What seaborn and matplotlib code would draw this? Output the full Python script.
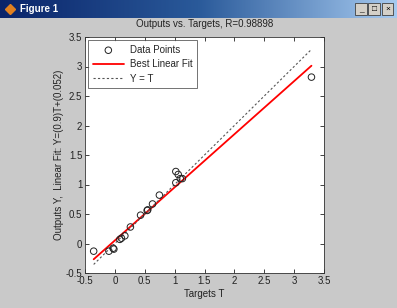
import numpy as np
import pandas as pd
import matplotlib
matplotlib.use("Agg")
import matplotlib.pyplot as plt
import seaborn as sns
from matplotlib.patches import Rectangle
from matplotlib.colors import LinearSegmentedColormap

targets = [-0.355, -0.10, -0.017, -0.03, 0.083, 0.11, 0.167, 0.26, 0.43, 0.54, 0.55,
           0.63, 0.745, 1.02, 1.06, 1.095, 1.13, 1.02, 3.29]
outputs = [-0.13, -0.13, -0.095, -0.08, 0.07, 0.09, 0.13, 0.28, 0.48, 0.56, 0.57,
           0.67, 0.82, 1.22, 1.17, 1.10, 1.10, 1.03, 2.82]
fit_slope = 0.9
fit_intercept = 0.052
r_value = "0.98898"
ticks = [-0.5, 0, 0.5, 1, 1.5, 2, 2.5, 3, 3.5]

sns.set_theme(style="white")
plt.rcParams['font.family'] = ['Liberation Sans', 'DejaVu Sans']

bg = "#c9c9c9"
fig = plt.figure(figsize=(3.97, 3.08), dpi=100, facecolor=bg)

# window title bar
tb = fig.add_axes([0, 1 - 18/308, 1, 18/308])
grad = np.linspace(0, 1, 256).reshape(1, -1)
cm = LinearSegmentedColormap.from_list("tb", ["#0a246a", "#2a5a9a", "#a6caf0"])
tb.imshow(grad, aspect="auto", cmap=cm, extent=[0, 1, 0, 1])
tb.set_xlim(0, 1); tb.set_ylim(0, 1); tb.axis("off")
tb.text(0.05, 0.5, "Figure 1", color="white", fontsize=7, fontweight="bold", va="center")
tb.plot([0.025], [0.5], marker="D", color="#e08020", markersize=5)
for i, sym in enumerate(["_", "□", "×"]):
    x0 = 0.895 + i * 0.033
    tb.add_patch(Rectangle((x0, 0.18), 0.03, 0.64, facecolor="#d4d0c8", edgecolor="#404040", lw=0.6))
    tb.text(x0 + 0.015, 0.48, sym, ha="center", va="center", fontsize=6, color="black")

df = pd.DataFrame({"T": targets, "Y": outputs})
xs = np.array([min(targets), max(targets)])
line_df = pd.DataFrame({"T": xs, "fit": fit_slope * xs + fit_intercept, "ident": xs})

ax = fig.add_axes([85/397, 1 - 273/308, 239/397, 236/308])
ax.set_facecolor("white")
sns.scatterplot(data=df, x="T", y="Y", ax=ax, marker="o", s=22, facecolors="none",
                edgecolor="#222222", linewidth=0.7, label="Data Points", zorder=3)
sns.lineplot(data=line_df, x="T", y="fit", ax=ax, color="red", linewidth=1.3,
             label="Best Linear Fit", zorder=2)
sns.lineplot(data=line_df, x="T", y="ident", ax=ax, color="#555555", linewidth=0.8,
             linestyle=(0, (2, 2)), label="Y = T", zorder=2)

ax.set_xlim(-0.5, 3.5)
ax.set_ylim(-0.5, 3.5)
ax.set_xticks(ticks)
ax.set_yticks(ticks)
ax.set_xticklabels([f"{t:g}" for t in ticks])
ax.set_yticklabels([f"{t:g}" for t in ticks])
ax.tick_params(direction="in", length=3, width=0.6, labelsize=7, colors="#222222",
               top=True, right=True, bottom=True, left=True, pad=2)
for s in ax.spines.values():
    s.set_color("#333333"); s.set_linewidth(0.6); s.set_visible(True)
ax.set_xlabel("Targets T", fontsize=7, labelpad=2, color="#222222")
ax.set_ylabel("Outputs Y,  Linear Fit: Y=(0.9)T+(0.052)", fontsize=7, labelpad=1, color="#222222")
ax.set_title(f"Outputs vs. Targets, R={r_value}", fontsize=7, pad=7, color="#222222")

leg = ax.legend(loc="upper left", fontsize=7, frameon=True, fancybox=False,
                edgecolor="#333333", borderpad=0.45, handlelength=3.2, labelspacing=0.45,
                borderaxespad=0.35, handletextpad=0.6)
leg.get_frame().set_linewidth(0.6)

fig.savefig("out.png", dpi=100, facecolor=bg)
